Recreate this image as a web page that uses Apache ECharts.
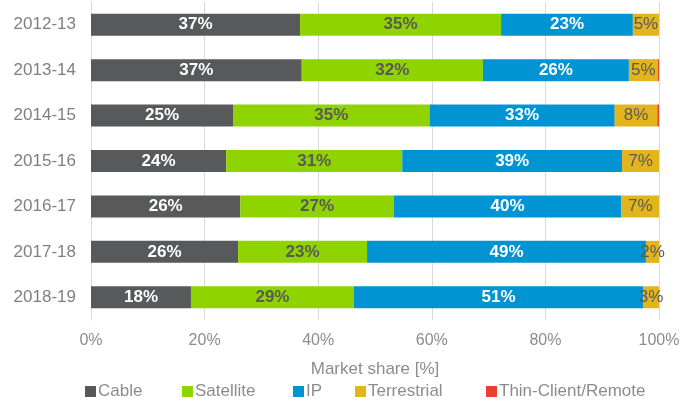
<!DOCTYPE html>
<html><head><meta charset="utf-8">
<script src="https://cdn.jsdelivr.net/npm/echarts@6/dist/echarts.min.js"></script>
<style>html,body{margin:0;padding:0;background:#fff}#c{width:683px;height:403px}</style>
</head><body><div id="c"></div>
<script>
const categories = ["2012-13","2013-14","2014-15","2015-16","2016-17","2017-18","2018-19"];
const cable = [36.8, 37.1, 25.0, 23.8, 26.3, 25.9, 17.6];
const satellite = [35.4, 31.9, 34.6, 31.0, 27.0, 22.7, 28.7];
const ip = [23.2, 25.7, 32.6, 38.7, 40.1, 49.1, 50.9];
const terrestrial = [4.6, 5.1, 7.5, 6.5, 6.6, 2.3, 2.8];
const thinClient = [0.0, 0.2, 0.3, 0.0, 0.0, 0.0, 0.0];
const seriesNames = ['Cable','Satellite','IP','Terrestrial','Thin-Client/Remote'];

const chart = echarts.init(document.getElementById('c'));
const font = 'Liberation Sans, Arial, sans-serif';
function mk(name, data, color, labelColor, weight, showLabel) {
  return {
    name, type: 'bar', stack: 'all', data, barWidth: 22,
    itemStyle: { color },
    label: {
      show: showLabel, position: 'inside', color: labelColor, fontFamily: font,
      fontSize: 17, fontWeight: weight,
      formatter: p => Math.round(p.value) + '%'
    }
  };
}
const legendLefts = [85, 182, 293, 355, 486];
const legends = seriesNames.map((n, i) => ({
  data: [n], left: legendLefts[i], top: 383, padding: 0,
  itemWidth: 11, itemHeight: 11, icon: 'rect', itemGap: 0,
  textStyle: { color: '#8c8c8c', fontSize: 17, fontFamily: font, padding: [0,0,0,-3] }
}));
chart.setOption({
  animation: false,
  grid: { left: 91, right: 24, top: 2, bottom: 83 },
  xAxis: {
    type: 'value', min: 0, max: 100, interval: 20,
    name: 'Market share [%]', nameLocation: 'middle', nameGap: 41,
    nameTextStyle: { color: '#8c8c8c', fontSize: 17, fontFamily: font },
    axisLabel: { color: '#8c8c8c', fontSize: 16, fontFamily: font, formatter: v => v + '%', margin: 13 },
    splitLine: { show: true, lineStyle: { color: '#d9d9d9', width: 1 } },
    axisLine: { show: false }, axisTick: { show: false }
  },
  yAxis: {
    type: 'category', data: categories, inverse: true,
    axisLabel: { color: '#7f7f7f', fontSize: 17, fontFamily: font, margin: 15 },
    axisLine: { show: true, lineStyle: { color: '#d9d9d9' } },
    axisTick: { show: false }
  },
  legend: legends,
  series: [
    mk('Cable', cable, '#58595b', '#ffffff', 'bold', true),
    mk('Satellite', satellite, '#8fd400', '#595959', 'bold', true),
    mk('IP', ip, '#0095d2', '#ffffff', 'bold', true),
    mk('Terrestrial', terrestrial, '#e3b51d', '#595959', 'normal', true),
    mk('Thin-Client/Remote', thinClient, '#e8412c', '#595959', 'normal', false)
  ]
});
</script></body></html>
